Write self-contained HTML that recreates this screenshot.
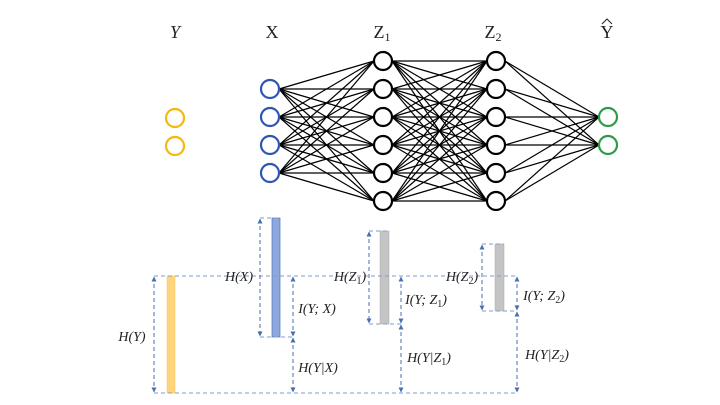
<!DOCTYPE html>
<html><head><meta charset="utf-8"><style>
html,body{margin:0;padding:0;background:#fff;width:720px;height:405px;overflow:hidden}
svg{display:block}
text{font-family:"Liberation Serif","DejaVu Serif",serif;fill:#222}
.it{font-style:italic}
.lb{font-size:14px}
.tp{font-size:18px}
</style></head><body>
<svg id="s" width="720" height="405" viewBox="0 0 720 405" xmlns="http://www.w3.org/2000/svg">
<defs>
<marker id="a" viewBox="0 0 10 10" refX="9" refY="5" markerWidth="5" markerHeight="5" orient="auto-start-reverse"><path d="M0,0L10,5L0,10z" fill="#4a6fb0"/></marker>
</defs>
<g id="edges" stroke="#000" stroke-width="1.2"></g>
<g id="nodes" fill="#fff" stroke-width="2.2"></g>
<text x="175" y="38" text-anchor="middle" class="it tp">Y</text>
<text x="272" y="38" text-anchor="middle" class="tp">X</text>
<text x="382" y="38" text-anchor="middle" class="tp">Z<tspan style="font-size:12px" dy="3">1</tspan></text>
<text x="493" y="38" text-anchor="middle" class="tp">Z<tspan style="font-size:12px" dy="3">2</tspan></text>
<text x="607" y="38" text-anchor="middle" class="tp">Y</text>
<path d="M602,24 L607,19 L612,24" fill="none" stroke="#222" stroke-width="1"/>
<rect x="167" y="276" width="8" height="117" fill="#ffd47f" stroke="#f5c04a" stroke-width="0.5"/>
<rect x="272" y="218" width="8" height="119" fill="#8fa8dc" stroke="#4a6fc4" stroke-width="0.7"/>
<rect x="380" y="231" width="9" height="93" fill="#c4c4c4" stroke="#a9a9a9" stroke-width="0.5"/>
<rect x="495" y="244" width="9" height="67" fill="#c4c4c4" stroke="#a9a9a9" stroke-width="0.5"/>
<g stroke="#7f9ccf" stroke-width="1" stroke-dasharray="4,3" fill="none">
<line x1="154" y1="276" x2="517" y2="276"/>
<line x1="154" y1="393" x2="517" y2="393"/>
<line x1="260" y1="218" x2="280" y2="218"/>
<line x1="260" y1="337" x2="293" y2="337"/>
<line x1="369" y1="231" x2="389" y2="231"/>
<line x1="369" y1="324" x2="401" y2="324"/>
<line x1="482" y1="244" x2="504" y2="244"/>
<line x1="482" y1="311" x2="517" y2="311"/>
</g>
<g stroke="#4a6fb0" stroke-width="1" stroke-dasharray="4,3" marker-start="url(#a)" marker-end="url(#a)">
<line x1="154" y1="277" x2="154" y2="392"/>
<line x1="260" y1="219" x2="260" y2="336"/>
<line x1="293" y1="277" x2="293" y2="336"/>
<line x1="293" y1="338" x2="293" y2="392"/>
<line x1="369" y1="232" x2="369" y2="323"/>
<line x1="401" y1="277" x2="401" y2="323"/>
<line x1="401" y1="325" x2="401" y2="392"/>
<line x1="482" y1="245" x2="482" y2="310"/>
<line x1="517" y1="277" x2="517" y2="310"/>
<line x1="517" y1="312" x2="517" y2="392"/>
</g>
<g class="lb">
<text x="132" y="341" class="it" text-anchor="middle">H(Y)</text>
<text x="239" y="281" class="it" text-anchor="middle">H(X)</text>
<text x="317" y="313" class="it" text-anchor="middle">I(Y; X)</text>
<text x="318" y="372" class="it" text-anchor="middle">H(Y|X)</text>
<text x="350" y="281" class="it" text-anchor="middle">H(Z<tspan style="font-size:10px;font-style:normal" dy="3">1</tspan><tspan dy="-3">)</tspan></text>
<text x="426" y="304" class="it" text-anchor="middle">I(Y; Z<tspan style="font-size:10px;font-style:normal" dy="3">1</tspan><tspan dy="-3">)</tspan></text>
<text x="429" y="362" class="it" text-anchor="middle">H(Y|Z<tspan style="font-size:10px;font-style:normal" dy="3">1</tspan><tspan dy="-3">)</tspan></text>
<text x="462" y="281" class="it" text-anchor="middle">H(Z<tspan style="font-size:10px;font-style:normal" dy="3">2</tspan><tspan dy="-3">)</tspan></text>
<text x="544" y="300" class="it" text-anchor="middle">I(Y; Z<tspan style="font-size:10px;font-style:normal" dy="3">2</tspan><tspan dy="-3">)</tspan></text>
<text x="547" y="359" class="it" text-anchor="middle">H(Y|Z<tspan style="font-size:10px;font-style:normal" dy="3">2</tspan><tspan dy="-3">)</tspan></text>
</g>
</svg>
<script>
var NS="http://www.w3.org/2000/svg";
var L=[{x:270,ys:[89,117,145,173],c:"#2f55b5"},{x:383,ys:[61,89,117,145,173,201],c:"#000"},{x:496,ys:[61,89,117,145,173,201],c:"#000"},{x:608,ys:[117,145],c:"#2e9a48"}];
var r=9,e=document.getElementById("edges"),n=document.getElementById("nodes");
for(var i=0;i<3;i++)L[i].ys.forEach(function(a){L[i+1].ys.forEach(function(b){var l=document.createElementNS(NS,"line");l.setAttribute("x1",L[i].x+r);l.setAttribute("y1",a);l.setAttribute("x2",L[i+1].x-r);l.setAttribute("y2",b);e.appendChild(l);});});
function c(x,y,col){var k=document.createElementNS(NS,"circle");k.setAttribute("cx",x);k.setAttribute("cy",y);k.setAttribute("r",r);k.setAttribute("stroke",col);n.appendChild(k);}
L.forEach(function(l){l.ys.forEach(function(y){c(l.x,y,l.c);});});
c(175,118,"#f2b90f");c(175,146,"#f2b90f");
</script>
</body></html>
